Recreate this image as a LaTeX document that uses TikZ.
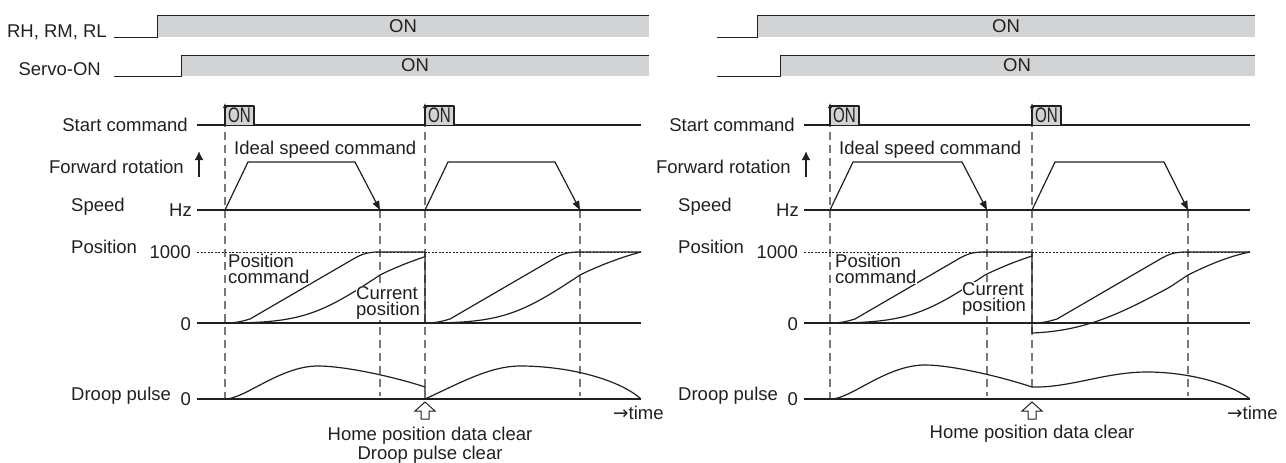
\documentclass[tikz,border=0pt]{standalone}
\usepackage{fontspec}
\setmainfont{Liberation Sans}
\newfontfamily\arrowfont{DejaVu Sans}
\usetikzlibrary{arrows.meta}
\definecolor{ink}{HTML}{231F20}
\definecolor{sigfill}{HTML}{D1D3D4}
\definecolor{guidegray}{HTML}{77787B}
\begin{document}
\begin{tikzpicture}[x=1pt,y=-1pt,
  every node/.style={font=\fontsize{18.5}{16}\selectfont, text=ink, inner sep=0pt},
  wave/.style={draw=ink, line width=1.2pt, line join=round},
  sigline/.style={draw=ink, line width=1pt},
  guide/.style={draw=guidegray, line width=1.3pt, dash pattern=on 8pt off 5pt},
  lvl/.style={draw=ink, line width=0.7pt, dash pattern=on 2pt off 1.5pt},
  lbl/.style={anchor=base east},
  lbll/.style={anchor=base west},
  tag/.style={fill=white, inner sep=0.5pt, align=left, anchor=north west},
  hollow/.style={draw=ink, fill=white, line width=1pt, line join=miter},
  spdarrow/.style={-{Triangle[length=9pt,width=7pt]}},
  pulsearrow/.style={-{Latex[length=5pt,width=4.5pt]}},
  fwdarrow/.style={draw=ink, line width=2.2pt, -{Latex[length=9pt,width=9pt]}},
  small/.style={font=\fontsize{21}{21}\selectfont},
]
\useasboundingbox (0,0) rectangle (1286,463);

% ---------- top signals ----------
\fill[sigfill] (157,15) rectangle (649,37);
\draw[sigline] (114,37) -- (157,37) -- (157,15) -- (649,15);
\node[lbl] (rhL) at (107,37) {RH, RM, RL};
\node (onRHL) at (403,26.5) {ON};
\fill[sigfill] (181,55) rectangle (649,76);
\draw[sigline] (114,76) -- (181,76) -- (181,55) -- (649,55);
\node[lbl] (svL) at (101,75) {Servo-ON};
\node (onSVL) at (415,65.5) {ON};

\fill[sigfill] (757,15) rectangle (1255,37);
\draw[sigline] (717,37) -- (757,37) -- (757,15) -- (1255,15);
\node (onRHR) at (1006,26.5) {ON};
\fill[sigfill] (780,55) rectangle (1255,76);
\draw[sigline] (717,76) -- (780,76) -- (780,55) -- (1255,55);
\node (onSVR) at (1017,65.5) {ON};

% ---------- guides ----------
\draw[guide] (225,106) -- (225,399);
\draw[guide] (380,210) -- (380,396);
\draw[guide] (425,106) -- (425,387);
\draw[guide] (580,210) -- (580,396);
\draw[guide] (830,106) -- (830,399);
\draw[guide] (987,210) -- (987,396);
\draw[guide] (1032,106) -- (1032,387);
\draw[guide] (1188,210) -- (1188,396);

% ---------- axis labels ----------
\node[lbl] (scL) at (188,131.5) {Start command};
\node[lbl] (frL) at (184,173) {Forward rotation};
\node[lbll] (spL) at (71,211) {Speed};
\node[lbl] (hzL) at (192,216.6) {Hz};
\node[lbll] (poL) at (71,253) {Position};
\node[lbl] (kL) at (191,258) {1000};
\node[lbl] (zL) at (191,330) {0};
\node[lbll] (dpL) at (71,400) {Droop pulse};
\node[lbl] (zdL) at (191,405) {0};
\draw[fwdarrow] (199,177) -- (199,151);

\node[lbl] (scR) at (795,131.5) {Start command};
\node[lbl] (frR) at (791,173) {Forward rotation};
\node[lbll] (spR) at (678,211) {Speed};
\node[lbl] (hzR) at (799,216.6) {Hz};
\node[lbll] (poR) at (678,253) {Position};
\node[lbl] (kR) at (798,258) {1000};
\node[lbl] (zR) at (798,330) {0};
\node[lbll] (dpR) at (678,400) {Droop pulse};
\node[lbl] (zdR) at (798,405) {0};
\draw[fwdarrow] (806,177) -- (806,151);

% ---------- start command ----------
\draw[wave] (197,125) -- (641,125);
\draw[wave] (804,125) -- (1250,125);
\foreach \p [count=\i] in {225,425,830,1032} {
  \fill[sigfill] (\p,106) rectangle ({\p+29},125);
  \draw[wave] (\p,106) -- ({\p+29},106) -- ({\p+29},125);
  \draw[wave, pulsearrow] (\p,125) -- (\p,103);
  \node[small] (pon\i) at ({\p+14.5},115.5) {\scalebox{0.72}[1]{ON}};
}

% ---------- speed ----------
\draw[wave] (197,210) -- (641,210);
\draw[wave] (804,210) -- (1250,210);
\node[lbll] (isL) at (234,154) {Ideal speed command};
\node[lbll] (isR) at (839,154) {Ideal speed command};
\draw[wave, spdarrow] (225,210) -- (248,162) -- (355,162) -- (380,210);
\draw[wave, spdarrow] (425,210) -- (448,162) -- (555,162) -- (580,210);
\draw[wave, spdarrow] (830,210) -- (853,162) -- (962,162) -- (987,210);
\draw[wave, spdarrow] (1032,210) -- (1055,162) -- (1164,162) -- (1188,210);

% ---------- position ----------
\draw[lvl] (197,252) -- (641,252);
\draw[lvl] (804,252) -- (1250,252);
\draw[wave] (197,323) -- (641,323);
\draw[wave] (804,323) -- (1250,323);

% left panel
\draw[wave] (225,323) .. controls (237,323) and (243,321) .. (250,319) -- (355,258)
  .. controls (365,252.5) and (371,252) .. (380,252) -- (425,252) -- (425,323);
\draw[wave] (425,323) .. controls (437,323) and (443,321) .. (450,319) -- (555,258)
  .. controls (565,252.5) and (571,252) .. (580,252) -- (641,252);
\begin{scope}
  \clip (200,230) rectangle (425.6,335);
  \draw[wave] (225,323) .. controls (300,323) and (320,315) .. (380,275)
    .. controls (400,265) and (425,256) .. (441,252);
\end{scope}
\draw[wave] (425,323) .. controls (500,323) and (520,315) .. (580,275)
  .. controls (600,265) and (625,256) .. (641,252);
\node[tag] (pcL) at (227.5,253) {Position\\command};
\node[tag] (cpL) at (355.5,286) {Current\\position};

% right panel
\draw[wave] (830,323) .. controls (842,323) and (848,321) .. (855,319) -- (960,258)
  .. controls (970,252.5) and (976,252) .. (985,252) -- (1032,252) -- (1032,333);
\draw[wave] (1032,323) .. controls (1044,323) and (1050,321) .. (1057,319) -- (1162,258)
  .. controls (1172,252.5) and (1178,252) .. (1187,252) -- (1250,252);
\begin{scope}
  \clip (805,230) rectangle (1032.6,335);
  \draw[wave] (830,323) .. controls (905,323) and (925,315) .. (985,275)
    .. controls (1005,265) and (1030,256) .. (1046,252);
\end{scope}
\draw[wave] (1032,333) .. controls (1085,331) and (1120,314) .. (1170,287) -- (1188,275)
  .. controls (1210,264) and (1230,256) .. (1250,252);
\node[tag] (pcR) at (834.5,253) {Position\\command};
\node[tag] (cpR) at (961.5,282) {Current\\position};

% ---------- droop pulse ----------
\draw[wave] (197,399) -- (641,399);
\draw[wave] (804,399) -- (1250,399);
\draw[wave] (225,399) .. controls (245,399) and (280,366) .. (318,366)
  .. controls (345,366) and (395,377) .. (425,387) -- (425,399);
\draw[wave] (425,399) .. controls (460,383) and (490,366) .. (520,366)
  .. controls (570,366) and (620,380) .. (641,399);
\draw[wave] (831,399) .. controls (851,399) and (886,365) .. (925,365)
  .. controls (952,365) and (1002,377) .. (1032,387);
\draw[wave] (1032,387) .. controls (1070,388) and (1105,372) .. (1147,372)
  .. controls (1180,372) and (1225,380) .. (1250,399);

\draw[hollow] (421,419) -- (421,411) -- (415,411) -- (425,402) -- (435,411) -- (429,411) -- (429,419) -- cycle;
\draw[hollow] (1028,419) -- (1028,411) -- (1022,411) -- (1032,402) -- (1042,411) -- (1036,411) -- (1036,419) -- cycle;

\node[anchor=base] (hcL) at (430,440) {Home position data clear};
\node[anchor=base] (dcL) at (430,459) {Droop pulse clear};
\node[anchor=base] (hcR) at (1032,438) {Home position data clear};
\node[lbll] (tmL) at (613,419) {{\arrowfont →}time};
\node[lbll] (tmR) at (1227,419) {{\arrowfont →}time};
\end{tikzpicture}
\end{document}
